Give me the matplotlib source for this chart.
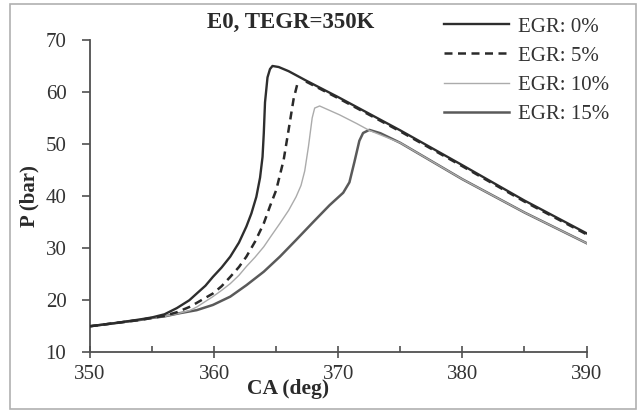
import matplotlib
matplotlib.use("Agg")
import matplotlib.pyplot as plt
from matplotlib.patches import Rectangle

# crank angle (deg) and cylinder pressure (bar)
ca_egr0 = [350, 352, 354, 355, 356, 357, 358, 358.6, 359.3, 359.9, 360.6, 361.3, 362.0,
           362.6, 363.0, 363.4, 363.7, 363.9, 364.0, 364.1, 364.3, 364.5, 364.7, 365.2,
           366.0, 367.4, 370, 375, 380, 385, 390]
p_egr0 = [14.9, 15.5, 16.2, 16.6, 17.2, 18.4, 19.9, 21.2, 22.7, 24.4, 26.2, 28.3, 31.0,
          34.1, 36.6, 39.8, 43.5, 47.5, 52.0, 58.0, 62.8, 64.4, 65.0, 64.8,
          64.0, 62.2, 59.0, 52.6, 45.9, 39.1, 32.8]

ca_egr5 = [350, 352, 354, 355, 356, 357, 358, 358.6, 359.9, 360.6, 361.3, 362.0, 362.6,
           363.3, 364.0, 364.5, 365.0, 365.6, 366.0, 366.4, 366.7]
p_egr5 = [14.9, 15.5, 16.1, 16.5, 16.9, 17.6, 18.6, 19.4, 21.2, 22.6, 24.4, 26.3, 28.3,
          31.2, 34.7, 38.0, 41.1, 46.9, 52.7, 58.6, 61.5]
ca_egr5_tail = [367.4, 370, 375, 380, 385, 390]
p_egr5_tail = [62.0, 58.8, 52.4, 45.7, 38.9, 32.6]

ca_egr10 = [350, 352, 354, 355, 356, 357, 358, 358.6, 359.9, 360.6, 361.3, 362.0, 362.6,
            363.3, 364.0, 364.6, 365.3, 366.0, 366.6, 367.0, 367.3, 367.6, 367.9, 368.1,
            368.5, 370.1, 371.5, 372.5, 375, 380, 385, 390]
p_egr10 = [14.9, 15.5, 16.1, 16.5, 16.8, 17.3, 17.9, 18.6, 20.6, 21.8, 23.1, 24.7, 26.4,
           28.2, 30.2, 32.3, 34.7, 37.2, 39.8, 42.0, 44.8, 49.5, 55.0, 56.9,
           57.3, 55.6, 53.9, 52.6, 50.2, 43.2, 36.8, 30.9]

ca_egr15 = [350, 352, 354, 355, 356, 357.2, 358.6, 359.9, 361.3, 362.6, 364.0, 365.3,
            366.6, 368.0, 369.3, 370.4, 370.9, 371.3, 371.7, 372.0, 372.5, 373.4, 375,
            380, 385, 390]
p_egr15 = [14.9, 15.5, 16.1, 16.5, 16.8, 17.4, 18.0, 19.0, 20.6, 22.8, 25.4, 28.3,
           31.5, 35.0, 38.2, 40.6, 42.6, 46.5, 50.6, 52.1, 52.7, 52.05, 50.2,
           43.2, 36.8, 30.9]

labels = ["EGR: 0%", "EGR: 5%", "EGR: 10%", "EGR: 15%"]
x_ticks = [350, 360, 370, 380, 390]
y_ticks = [10, 20, 30, 40, 50, 60, 70]

plt.rcParams["font.family"] = ["Liberation Serif", "DejaVu Serif"]

W, H = 643, 411
fig = plt.figure(figsize=(W / 100, H / 100), dpi=100)
ax = fig.add_axes([90 / W, 1 - 351.7 / H, (586.5 - 90) / W, (351.7 - 40) / H])

ax.plot(ca_egr15, p_egr15, color="#5a5a5a", lw=1.8, zorder=2, label=labels[3])
ax.plot(ca_egr10, p_egr10, color="#ababab", lw=1.0, zorder=3, label=labels[2])
ax.plot(ca_egr0, p_egr0, color="#2e2e2e", lw=1.7, zorder=4, label=labels[0])
ax.plot(ca_egr5, p_egr5, color="#2a2a2a", lw=1.8, dashes=(3.2, 2.2), zorder=5,
        label=labels[1])
ax.plot(ca_egr5_tail, p_egr5_tail, color="#2a2a2a", lw=1.8, dashes=(3.2, 2.2), zorder=5)

ax.set_xlim(350, 390)
ax.set_ylim(10, 70)
ax.set_xticks(x_ticks)
ax.set_xticks([355, 365, 375, 385], minor=True)
ax.set_yticks(y_ticks)
for s in ("top", "right"):
    ax.spines[s].set_visible(False)
for s in ("left", "bottom"):
    ax.spines[s].set_color("#505050")
    ax.spines[s].set_linewidth(1.3)
ax.tick_params(axis="y", direction="out", length=6, width=1.2, color="#505050",
               labelsize=15, labelcolor="#333333", pad=11)
ax.tick_params(axis="x", which="major", direction="inout", length=9, width=1.2,
               color="#505050", labelsize=15, labelcolor="#333333", pad=5)
ax.tick_params(axis="x", which="minor", direction="in", length=4, width=1.2,
               color="#505050")

fig.text(290.5 / W, 1 - 22 / H, "E0, TEGR=350K", ha="center", va="center",
         fontsize=16.5, fontweight="bold", color="#2a2a2a")
fig.text(288 / W, 1 - 389 / H, "CA (deg)", ha="center", va="center",
         fontsize=15.5, fontweight="bold", color="#2a2a2a")
fig.text(29 / W, 1 - 196 / H, "P (bar)", ha="center", va="center", rotation=90,
         fontsize=15, fontweight="bold", color="#2a2a2a")

h, l = ax.get_legend_handles_labels()
hd = {lab: hh for hh, lab in zip(h, l)}
leg = ax.legend([hd[x] for x in labels], labels, loc="upper left",
                bbox_to_anchor=(444 / W, 1 - 17 / H), bbox_transform=fig.transFigure,
                frameon=False, fontsize=15, handlelength=3.1, handletextpad=0.45,
                labelspacing=0.46, borderpad=0, borderaxespad=0)
for t in leg.get_texts():
    t.set_color("#333333")

fig.patches.append(Rectangle((10 / W, 1 - 409 / H), 626 / W, 405 / H,
                             transform=fig.transFigure, fill=False,
                             edgecolor="#b0b0b0", lw=1.2))

fig.savefig("out.png", dpi=100)
